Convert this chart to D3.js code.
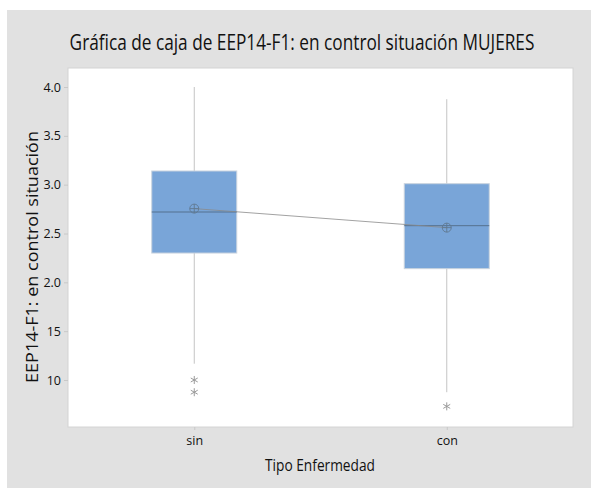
<!DOCTYPE html>
<html>
<head>
<meta charset="utf-8">
<script src="https://cdn.jsdelivr.net/npm/d3@7/dist/d3.min.js"></script>
<style>
  html, body { margin: 0; padding: 0; background: #fff; }
  svg { display: block; }
  text { font-family: "Open Sans", "Noto Sans", sans-serif; fill: #111; }
</style>
</head>
<body>
<svg id="chart" width="591" height="488"></svg>
<script>
// Groups and summary statistics of each box
const categories = ["sin", "con"];
const q1Values      = [2.30, 2.14];
const medianValues  = [2.72, 2.58];
const q3Values      = [3.14, 3.01];
const whiskerLow    = [1.167, 0.875];
const whiskerHigh   = [4.00, 3.875];
const meanValues    = [2.755, 2.56];
const outlierValues = [[1.0, 0.875], [0.73]];

// Y axis ticks and their printed labels
const yTickValues = [4.0, 3.5, 3.0, 2.5, 2.0, 1.5, 1.0];
const yTickLabels = ["4.0", "3.5", "3.0", "2.5", "2.0", "15", "10"];

const svg = d3.select("#chart");
const W = 591, H = 488;

// Panel background
svg.append("rect").attr("x", 7).attr("y", 10).attr("width", W - 7).attr("height", H - 10)
  .attr("fill", "#e1e1e1");

const plot = { left: 68, top: 68, right: 573, bottom: 427 };

svg.append("rect")
  .attr("x", plot.left).attr("y", plot.top)
  .attr("width", plot.right - plot.left).attr("height", plot.bottom - plot.top)
  .attr("fill", "#fff").attr("stroke", "#d4d4d4").attr("stroke-width", 1);

const x = d3.scalePoint().domain(categories).range([plot.left, plot.right]).padding(0.5);
const y = d3.scaleLinear().domain([1.0, 4.0]).range([380, 87]);
const boxW = 85;

// Horizontally condensed text: fits the string to a target width around (cx, cy)
function condensed(parent, str, cx, cy, size, width, rotate) {
  const g = parent.append("g")
    .attr("transform", `translate(${cx},${cy})` + (rotate ? " rotate(-90)" : ""));
  const t = g.append("text").attr("text-anchor", "middle").attr("font-size", size).text(str);
  const natural = t.node().getComputedTextLength();
  t.attr("transform", `scale(${width / natural},1)`);
  return t;
}

// Title
condensed(svg, "Gráfica de caja de EEP14-F1: en control situación MUJERES", 302, 50, 21, 465, false);

// Y axis
const yAxis = d3.axisLeft(y).tickValues(yTickValues)
  .tickFormat((d, i) => yTickLabels[i]).tickSize(4).tickPadding(3);
const gy = svg.append("g").attr("transform", `translate(${plot.left},0)`).call(yAxis);
gy.select(".domain").remove();
gy.selectAll(".tick line").attr("stroke", "#c8c8c8");
gy.selectAll(".tick text").attr("font-size", 12.5).attr("fill", "#222")
  .style("font-family", "'Open Sans', sans-serif");

// X axis
const xAxis = d3.axisBottom(x).tickSize(3).tickPadding(6);
const gx = svg.append("g").attr("transform", `translate(0,${plot.bottom})`).call(xAxis);
gx.select(".domain").remove();
gx.selectAll(".tick line").attr("stroke", "#c8c8c8");
gx.selectAll(".tick text").attr("font-size", 12.5).attr("fill", "#222")
  .style("font-family", "'Open Sans', sans-serif");

// Axis titles
condensed(svg, "Tipo Enfermedad", 320, 471, 16.5, 110, false);
condensed(svg, "EEP14-F1: en control situación", 38, 257, 17, 252, true);

// Boxes
const data = categories.map((c, i) => ({
  cat: c, q1: q1Values[i], med: medianValues[i], q3: q3Values[i],
  lo: whiskerLow[i], hi: whiskerHigh[i], mean: meanValues[i], out: outlierValues[i]
}));

const g = svg.append("g");

g.selectAll(".whisker").data(data).join("line")
  .attr("x1", d => x(d.cat)).attr("x2", d => x(d.cat))
  .attr("y1", d => y(d.hi)).attr("y2", d => y(d.lo))
  .attr("stroke", "#c4c4c4").attr("stroke-width", 1);

g.selectAll(".box").data(data).join("rect")
  .attr("x", d => x(d.cat) - boxW / 2).attr("width", boxW)
  .attr("y", d => y(d.q3)).attr("height", d => y(d.q1) - y(d.q3))
  .attr("fill", "#79a5d8").attr("stroke", "#c9d3de").attr("stroke-width", 1);

g.selectAll(".median").data(data).join("line")
  .attr("x1", d => x(d.cat) - boxW / 2).attr("x2", d => x(d.cat) + boxW / 2)
  .attr("y1", d => y(d.med)).attr("y2", d => y(d.med))
  .attr("stroke", "#55718f").attr("stroke-width", 1);

// Line joining the means
g.append("path").datum(data)
  .attr("d", d3.line().x(d => x(d.cat)).y(d => y(d.mean)))
  .attr("fill", "none").attr("stroke", "#8a8a8a").attr("stroke-width", 0.8);

// Mean symbols (circle with cross)
const meanG = g.selectAll(".mean").data(data).join("g")
  .attr("transform", d => `translate(${x(d.cat)},${y(d.mean)})`);
meanG.append("circle").attr("r", 4.5).attr("fill", "none")
  .attr("stroke", "#607890").attr("stroke-width", 0.9);
meanG.append("path").attr("d", "M-4.5,0H4.5M0,-4.5V4.5")
  .attr("stroke", "#607890").attr("stroke-width", 0.9);

// Outliers (asterisks)
const outs = data.flatMap(d => d.out.map(v => ({ cat: d.cat, v })));
g.selectAll(".outlier").data(outs).join("path")
  .attr("transform", d => `translate(${x(d.cat)},${y(d.v)})`)
  .attr("d", d3.symbol(d3.symbolAsterisk, 45))
  .attr("fill", "none").attr("stroke", "#9a9a9a").attr("stroke-width", 1);
</script>
</body>
</html>
